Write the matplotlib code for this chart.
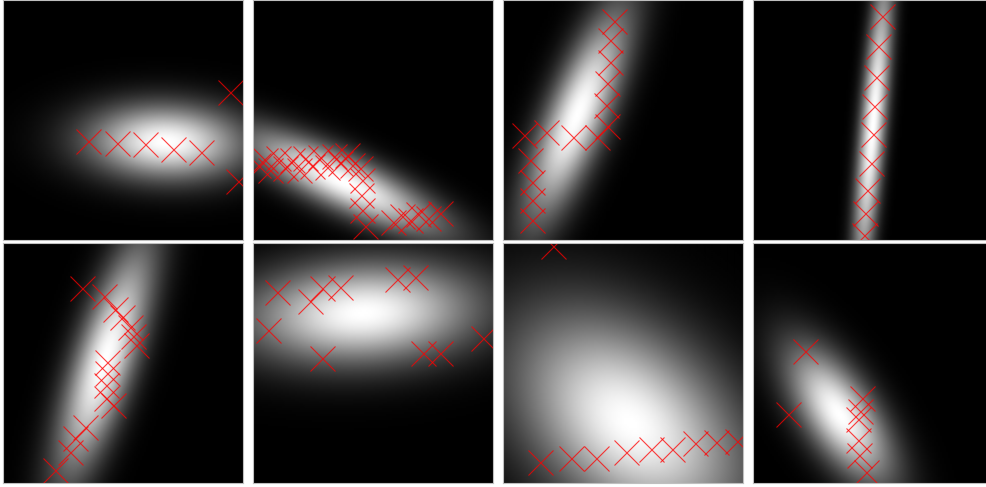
import numpy as np
import matplotlib
matplotlib.use('Agg')
import matplotlib.pyplot as plt

##################################################################
# Panel data, in grid units (0..240, y pointing down)

# Gaussian blobs: centre, major/minor spread and tilt of major axis (deg)
blobX     = [163,  90,  74, 120, 102, 110, 127,  87]
blobY     = [142, 182, 115, 125, 117,  70, 180, 172]
blobMajor = [ 55,  75,  80, 110,  85,  80,  92,  55]
blobMinor = [ 26,  19,  21,   9,  21,  35,  60,  24]
blobAngle = [  2,  25, -68, -85, -72,  -3,  42,  56]

# Sample points drawn on top of each blob
pts1 = [(85, 141), (114, 143), (142, 144), (170, 149), (198, 152), (227, 92), (235, 181)]
pts2 = [(5, 165), (12, 160), (17, 170), (25, 158), (32, 168), (39, 160), (46, 170),
        (52, 158), (59, 166), (67, 157), (74, 167), (81, 156), (87, 163), (94, 155),
        (99, 165), (107, 168), (109, 180), (108, 195), (109, 210), (112, 226),
        (140, 222), (149, 216), (157, 220), (165, 214), (175, 218), (187, 213)]
pts3 = [(111, 21), (107, 40), (107, 62), (104, 83), (103, 105), (104, 126), (94, 137),
        (70, 137), (21, 135), (43, 132), (27, 160), (29, 182), (29, 200), (29, 220)]
pts4 = [(129, 16), (125, 46), (123, 77), (121, 106), (120, 134), (118, 163),
        (114, 190), (112, 213), (111, 235)]
pts5 = [(79, 45), (101, 53), (112, 66), (119, 74), (127, 84), (130, 93), (133, 102),
        (104, 119), (104, 130), (103, 142), (103, 155), (110, 162), (82, 184),
        (72, 195), (67, 209), (52, 227)]
pts6 = [(24, 49), (57, 58), (69, 45), (87, 44), (15, 87), (69, 115), (144, 36),
        (162, 34), (170, 110), (187, 110), (230, 95)]
pts7 = [(50, 3), (37, 219), (68, 215), (93, 215), (123, 209), (148, 206), (169, 206),
        (192, 200), (213, 199), (234, 198)]
pts8 = [(52, 108), (35, 171), (109, 155), (107, 168), (105, 176), (105, 197),
        (106, 212), (113, 229)]
points = [pts1, pts2, pts3, pts4, pts5, pts6, pts7, pts8]

size = 240
nGrid = 120

def gaussImage(cx, cy, sMaj, sMin, angle):
    '''Unnormalised 2D gaussian on a square grid'''
    g = (np.arange(nGrid) + 0.5) * size / nGrid
    X, Y = np.meshgrid(g, g)
    dx, dy = X - cx, Y - cy
    a = np.deg2rad(angle)
    u = dx * np.cos(a) + dy * np.sin(a)
    v = -dx * np.sin(a) + dy * np.cos(a)
    return np.exp(-0.5 * ((u / sMaj)**2 + (v / sMin)**2))

W, H = 987, 487
fig = plt.figure(figsize=(W / 100, H / 100), dpi=100)

for i in range(8):
    row, col = divmod(i, 4)
    left = 3 + 250 * col
    top = 0 if row == 0 else 243
    ax = fig.add_axes([left / W, 1 - (top + size) / H, size / W, size / H])

    img = gaussImage(blobX[i], blobY[i], blobMajor[i], blobMinor[i], blobAngle[i])
    ax.imshow(img, cmap='gray', vmin=0, vmax=img.max(),
              extent=(0, size, size, 0), interpolation='bilinear')

    px = [p[0] for p in points[i]]
    py = [p[1] for p in points[i]]
    ax.plot(px, py, 'x', color='red', alpha=0.75, markersize=18, markeredgewidth=0.8)

    ax.set_xlim(0, size)
    ax.set_ylim(size, 0)
    ax.set_xticks([])
    ax.set_yticks([])
    for s in ax.spines.values():
        s.set_color('0.75')
        s.set_linewidth(0.8)

fig.savefig('out.png', dpi=100)
